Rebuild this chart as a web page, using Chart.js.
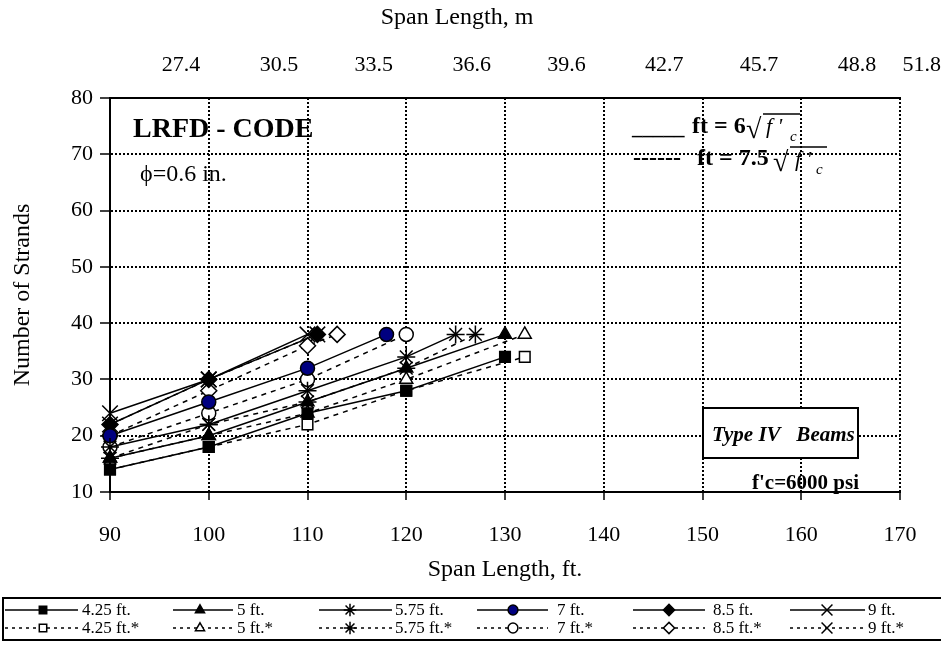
<!DOCTYPE html>
<html>
<head>
<meta charset="utf-8">
<script src="https://cdn.jsdelivr.net/npm/chart.js@4.4.0/dist/chart.umd.min.js"></script>
<style>
html, body { margin: 0; padding: 0; background: #fff; }
#wrap { position: relative; width: 941px; height: 654px; }
</style>
</head>
<body>
<div id="wrap"><canvas id="myChart"></canvas></div>
<script>
var SERIF = '"Liberation Serif", "Times New Roman", serif';

// beam spacing series: plain = ft = 6*sqrt(f'c), starred = ft = 7.5*sqrt(f'c)
var seriesNames = ['4.25 ft.', '5 ft.', '5.75 ft.', '7 ft.', '8.5 ft.', '9 ft.',
                   '4.25 ft.*', '5 ft.*', '5.75 ft.*', '7 ft.*', '8.5 ft.*', '9 ft.*'];

var spanFt = [
    [90, 100, 110, 120, 130],
    [90, 100, 110, 120, 130],
    [90, 100, 110, 120, 125],
    [90, 100, 110, 118],
    [90, 100, 111],
    [90, 100, 110],
    [90, 100, 110, 120, 132],
    [90, 100, 110, 120, 132],
    [90, 100, 110, 120, 127],
    [90, 100, 110, 120],
    [90, 100, 110, 113],
    [90, 100, 111]
];

var strands = [
    [14, 18, 24, 28, 34],
    [16, 20, 26, 32, 38],
    [18, 22, 28, 34, 38],
    [20, 26, 32, 38],
    [22, 30, 38],
    [24, 30, 38],
    [14, 18, 22, 28, 34],
    [16, 20, 24, 30, 38],
    [16, 22, 26, 32, 38],
    [18, 24, 30, 38],
    [20, 28, 36, 38],
    [22, 30, 38]
];

var metreLabels = ['27.4', '30.5', '33.5', '36.6', '39.6', '42.7', '45.7', '48.8', '51.8'];

// marker look for each spacing (same order for both groups)
var markerStyle = ['rect', 'triangle', 'star', 'circle', 'rectRot', 'crossRot'];
var markerRadius = [7.5, 7.5, 9, 7, 8, 11];
var solidFill = ['#000', '#000', '#000', '#000080', '#000', '#000'];

var datasets = [];
for (var i = 0; i < seriesNames.length; i++) {
    var k = i % 6;
    var starred = i >= 6;
    var pts = [];
    for (var j = 0; j < spanFt[i].length; j++) {
        pts.push({x: spanFt[i][j], y: strands[i][j]});
    }
    datasets.push({
        label: seriesNames[i],
        data: pts,
        borderColor: '#000',
        borderWidth: 1.5,
        borderDash: starred ? [5, 5] : [],
        pointStyle: markerStyle[k],
        pointRadius: markerRadius[k],
        pointHoverRadius: markerRadius[k],
        pointBackgroundColor: starred ? '#fff' : solidFill[k],
        pointBorderColor: '#000',
        pointBorderWidth: 1.5,
        tension: 0,
        fill: false,
        clip: false
    });
}

// legend box under the plot, two rows of six
var legendCols = [
    {x1: 5, x2: 78, m: 43, t: 82},
    {x1: 173, x2: 233, m: 200, t: 237},
    {x1: 319, x2: 392, m: 350, t: 395},
    {x1: 477, x2: 548, m: 513, t: 557},
    {x1: 633, x2: 705, m: 669, t: 713},
    {x1: 790, x2: 865, m: 827, t: 868}
];

var legendPlugin = {
    id: 'boxLegend',
    afterDraw: function(chart) {
        var ctx = chart.ctx;
        ctx.save();
        ctx.strokeStyle = '#000';
        ctx.lineWidth = 2;
        ctx.strokeRect(3, 598, 945, 42);
        ctx.font = '17px ' + SERIF;
        ctx.textBaseline = 'middle';
        ctx.fillStyle = '#000';
        for (var i = 0; i < datasets.length; i++) {
            var c = legendCols[i % 6];
            var y = i < 6 ? 610 : 628;
            var ds = datasets[i];
            ctx.lineWidth = 1.5;
            ctx.setLineDash(i < 6 ? [] : [3, 4]);
            ctx.beginPath();
            ctx.moveTo(c.x1, y);
            ctx.lineTo(c.x2, y);
            ctx.stroke();
            ctx.setLineDash([]);
            ctx.fillStyle = ds.pointBackgroundColor;
            ctx.strokeStyle = '#000';
            ctx.lineWidth = 1.5;
            Chart.helpers.drawPoint(ctx, {
                pointStyle: ds.pointStyle,
                radius: ds.pointRadius * 0.7,
                rotation: 0,
                borderWidth: 1.5
            }, c.m, y);
            ctx.fillStyle = '#000';
            ctx.fillText(ds.label, c.t, y + 1);
        }
        ctx.restore();
    }
};

// notes written on and around the plot area
var notesPlugin = {
    id: 'notes',
    afterDraw: function(chart) {
        var ctx = chart.ctx;
        ctx.save();
        ctx.fillStyle = '#000';
        ctx.strokeStyle = '#000';

        // top axis title and its last label, which sits at the right edge
        ctx.font = '24px ' + SERIF;
        ctx.textAlign = 'center';
        ctx.textBaseline = 'middle';
        ctx.fillText('Span Length, m', 457, 18);
        var items = chart.scales.x2.getLabelItems();
        if (items.length) {
            var it = items[0];
            ctx.font = it.font.string;
            ctx.textBaseline = it.options.textBaseline;
            ctx.textAlign = 'right';
            ctx.fillText(metreLabels[metreLabels.length - 1], 941, it.options.translation[1] + it.textOffset);
        }

        ctx.textAlign = 'left';
        ctx.textBaseline = 'alphabetic';
        ctx.font = 'bold 28px ' + SERIF;
        ctx.fillText('LRFD - CODE', 133, 137);

        ctx.font = '24px ' + SERIF;
        ctx.fillText('\u03D5=0.6 in.', 140, 181);

        // Type IV box
        ctx.fillStyle = '#fff';
        ctx.fillRect(703, 408, 155, 50);
        ctx.lineWidth = 2;
        ctx.strokeRect(703, 408, 155, 50);
        ctx.fillStyle = '#000';
        ctx.font = 'italic bold 21px ' + SERIF;
        ctx.fillText('Type IV   Beams', 712, 441);

        ctx.font = 'bold 21px ' + SERIF;
        ctx.fillText("f'c=6000 psi", 752, 489);

        // allowable tension notes
        ctx.font = 'bold 21px ' + SERIF;
        ctx.fillText('_____', 632, 134);
        ctx.font = 'bold 24px ' + SERIF;
        ctx.fillText('ft = 6', 692, 133);
        ctx.font = '28px ' + SERIF;
        ctx.fillText('\u221A', 746, 138);
        ctx.lineWidth = 1.5;
        ctx.beginPath();
        ctx.moveTo(763, 114);
        ctx.lineTo(800, 114);
        ctx.stroke();
        ctx.font = 'italic 22px ' + SERIF;
        ctx.fillText("f '", 766, 133);
        ctx.font = 'italic 15px ' + SERIF;
        ctx.fillText('c', 790, 141);

        ctx.font = 'bold 24px ' + SERIF;
        ctx.fillText('------', 633, 165);
        ctx.fillText('ft = 7.5', 697, 165);
        ctx.font = '28px ' + SERIF;
        ctx.fillText('\u221A', 773, 171);
        ctx.beginPath();
        ctx.moveTo(790, 147);
        ctx.lineTo(827, 147);
        ctx.stroke();
        ctx.font = 'italic 22px ' + SERIF;
        ctx.fillText("f '", 795, 166);
        ctx.font = 'italic 15px ' + SERIF;
        ctx.fillText('c', 816, 174);
        ctx.restore();
    }
};

var tickFont = {family: SERIF, size: 22};
var titleFont = {family: SERIF, size: 24};

var CHART = document.getElementById('myChart');
var myChart = new Chart(CHART, {
    type: 'line',
    data: {datasets: datasets},
    options: {
        responsive: true,
        maintainAspectRatio: false,
        animation: false,
        events: [],
        layout: {padding: {left: 0, right: 41, top: 0, bottom: 64}},
        plugins: {
            legend: {display: false},
            tooltip: {enabled: false}
        },
        scales: {
            x: {
                type: 'linear',
                position: 'bottom',
                min: 90,
                max: 170,
                ticks: {stepSize: 10, color: '#000', font: tickFont, padding: 22, maxRotation: 0},
                grid: {color: '#000', lineWidth: 2, tickLength: 8, tickWidth: 1.5},
                border: {display: true, color: '#000', width: 2, dash: [2, 2]},
                title: {display: true, text: 'Span Length, ft.', color: '#000', font: titleFont, padding: {top: 0, bottom: 6}},
                afterFit: function(scale) { scale.height = 98; }
            },
            // metric labels along the top edge
            x2: {
                type: 'linear',
                position: 'top',
                min: 25.15,
                max: 50.16,
                afterBuildTicks: function(scale) {
                    scale.ticks = metreLabels.map(function(s) { return {value: parseFloat(s)}; })
                        .filter(function(t) { return t.value <= scale.max; });
                },
                ticks: {
                    color: '#000', font: tickFont, padding: 20, maxRotation: 0, autoSkip: false,
                    callback: function(value) { return value.toFixed(1); }
                },
                grid: {display: false, drawTicks: false},
                border: {display: true, color: '#000', width: 2},
                afterFit: function(scale) { scale.height = 98; }
            },
            y: {
                type: 'linear',
                min: 10,
                max: 80,
                ticks: {stepSize: 10, color: '#000', font: tickFont, padding: 7},
                grid: {color: '#000', lineWidth: 2, tickLength: 10, tickWidth: 1.5},
                border: {display: true, color: '#000', width: 2, dash: [2, 2]},
                title: {display: true, text: 'Number of Strands', color: '#000', font: titleFont, padding: {top: 8, bottom: 0}},
                afterFit: function(scale) { scale.width = 110; }
            }
        }
    },
    plugins: [legendPlugin, notesPlugin]
});
</script>
</body>
</html>
